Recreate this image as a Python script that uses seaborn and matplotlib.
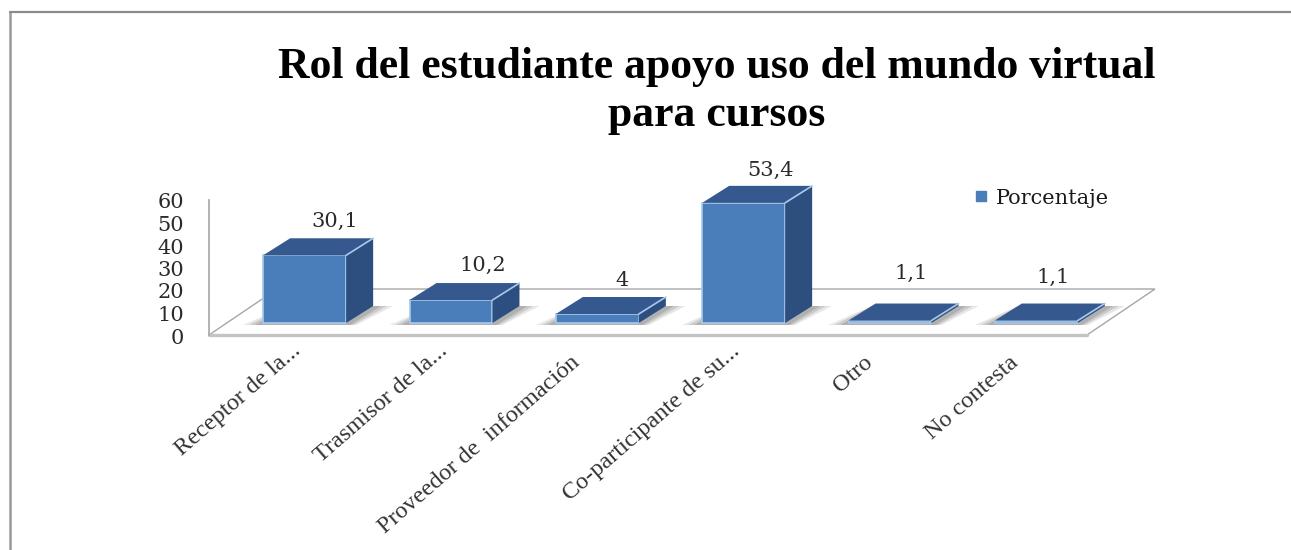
import matplotlib
matplotlib.use("Agg")
import matplotlib.pyplot as plt
import seaborn as sns
import pandas as pd
from matplotlib.patches import Polygon
from matplotlib.lines import Line2D
from matplotlib.transforms import ScaledTranslation

categories = ["Receptor de la...", "Trasmisor de la...", "Proveedor de  información",
              "Co-participante de su...", "Otro", "No contesta"]
values = [30.1, 10.2, 4, 53.4, 1.1, 1.1]
value_labels = ["30,1", "10,2", "4", "53,4", "1,1", "1,1"]
series_name = "Porcentaje"
title = "Rol del estudiante apoyo uso del mundo virtual\npara cursos"

W, H = 1291, 550
DPI = 100
FRONT = "#4a7ebb"; TOP = "#35598f"; SIDE = "#2c4f80"; EDGE = "#a9c9ec"
WIDE_SERIF = ["DejaVu Serif"]

sns.set_theme(style="white")
plt.rcParams["font.family"] = ["Liberation Serif", "DejaVu Serif"]

fig = plt.figure(figsize=(W / DPI, H / DPI), dpi=DPI)
fig.patch.set_facecolor("white")
# axes box in pixels: x 209..1087, y 335..200 (from top)
ax = fig.add_axes([209 / W, 1 - 335 / H, 878 / W, 135 / H])
ax.patch.set_alpha(0)

df = pd.DataFrame({"cat": categories, "val": values})
sns.barplot(data=df, x="cat", y="val", color=FRONT, saturation=1, width=0.567,
            edgecolor=EDGE, linewidth=1.2, ax=ax, zorder=5)
ax.set_xlim(-0.5, 5.5)
ax.set_ylim(0, 60)
ax.set_yticks(range(0, 61, 10))
ax.set_xlabel(""); ax.set_ylabel("")

px = lambda dx, dy: ScaledTranslation(dx / DPI, dy / DPI, fig.dpi_scale_trans)
to_bar = ax.transData + px(22.5, 12)
data_per_px_x = 6 / 878
data_per_px_y = 60 / 135
DX, DY = 27 * data_per_px_x, 17 * data_per_px_y

# floor, expressed in axes coordinates
fdx, fdy = 68, 46
floor = Polygon([(0, 0), (1, 0), (1 + fdx / 878, fdy / 135), (fdx / 878, fdy / 135)],
                closed=True, transform=ax.transAxes, facecolor="white", edgecolor="#a6a6a6",
                linewidth=1.0, zorder=1, clip_on=False)
ax.add_patch(floor)
ax.add_line(Line2D([0, 1], [0, 0], transform=ax.transAxes, color="#c4c4c4", lw=2.4,
                   zorder=2, clip_on=False))

low = -2 * data_per_px_y
for bar, v in zip(list(ax.patches), values):
    x0, w = bar.get_x(), bar.get_width()
    x1 = x0 + w
    bar.set_transform(to_bar)
    bar.set_clip_on(False)
    # soft shadow on the floor
    for grow, a in ((20, 0.18), (14, 0.26), (8, 0.32)):
        g = grow * data_per_px_x
        ax.add_patch(Polygon([(x0 - g, low), (x1 + g * .5, low), (x1 + DX + g, DY), (x0 + DX - g * .2, DY)],
                             transform=to_bar, facecolor="#7a7a7a", alpha=a, edgecolor="none",
                             zorder=3, clip_on=False))
    ax.add_patch(Polygon([(x0, v), (x1, v), (x1 + DX, v + DY), (x0 + DX, v + DY)],
                         transform=to_bar, facecolor=TOP, edgecolor="none", zorder=6, clip_on=False))
    ax.add_patch(Polygon([(x1, 0), (x1 + DX, DY), (x1 + DX, v + DY), (x1, v)],
                         transform=to_bar, facecolor=SIDE, edgecolor="none", zorder=6, clip_on=False))
    ax.add_line(Line2D([x1, x1 + DX], [v, v + DY], transform=to_bar, color=EDGE, lw=1.2,
                       zorder=7, clip_on=False))

sns.despine(ax=ax, top=True, right=True, bottom=True)
ax.spines["left"].set_color("#a6a6a6")
ax.spines["left"].set_linewidth(1.2)
ax.tick_params(axis="y", length=0, pad=18, labelsize=15, labelcolor="#2a2a2a")
ax.tick_params(axis="x", length=0, pad=3)
for lab in ax.get_yticklabels():
    lab.set_fontfamily(WIDE_SERIF)
    lab.set_transform(lab.get_transform() + px(0, -1))

ax.set_xticks(range(len(categories)))
ax.set_xticklabels(categories, rotation=41, ha="right", rotation_mode="anchor",
                   fontsize=17.5, color="#333333")
# labels that end in dots reach further towards the axis than the others
label_nudge = [(9, -1), (9, -1), (-5, -13), (9, -1), (-5, -13), (-5, -13)]
for lab, (nx, ny) in zip(ax.get_xticklabels(), label_nudge):
    lab.set_transform(lab.get_transform() + px(nx, ny))

# value labels: pixel offsets above the back top edge of every bar
label_lift = [17, 18, 17, 15, 30, 26]
label_shift = [17, 18, 11, 13, 8, 3]
for i, (v, s) in enumerate(zip(values, value_labels)):
    ax.annotate(s, (i + DX / 2, v + DY), xycoords=to_bar, xytext=(label_shift[i] * .72, label_lift[i] * .72),
                textcoords="offset points", ha="center", va="center", fontsize=15,
                family=WIDE_SERIF, color="#2a2a2a", annotation_clip=False, zorder=8)

fig.suptitle(title, x=717 / W, y=1 - 47 / H, va="top", ha="center", fontsize=31.5,
             fontweight="bold", color="black", linespacing=1.25)

handle = Line2D([], [], linestyle="none", marker="s", markersize=7, color=FRONT, label=series_name)
leg = fig.legend(handles=[handle], loc="center left", bbox_to_anchor=(973 / W, 1 - 198 / H),
                 frameon=False, handlelength=0.75, handletextpad=0.35,
                 borderaxespad=0, borderpad=0, labelcolor="#1a1a1a", prop={"family": WIDE_SERIF, "size": 15})

# outer frame of the picture: left and top edges only
fig.add_artist(Line2D([10 / W, 10 / W], [0, 1 - 12 / H], color="#9a9a9a", lw=1.8))
fig.add_artist(Line2D([10 / W, 1], [1 - 12 / H, 1 - 12 / H], color="#8a8a8a", lw=1.6))

fig.savefig("out.png", dpi=DPI)
